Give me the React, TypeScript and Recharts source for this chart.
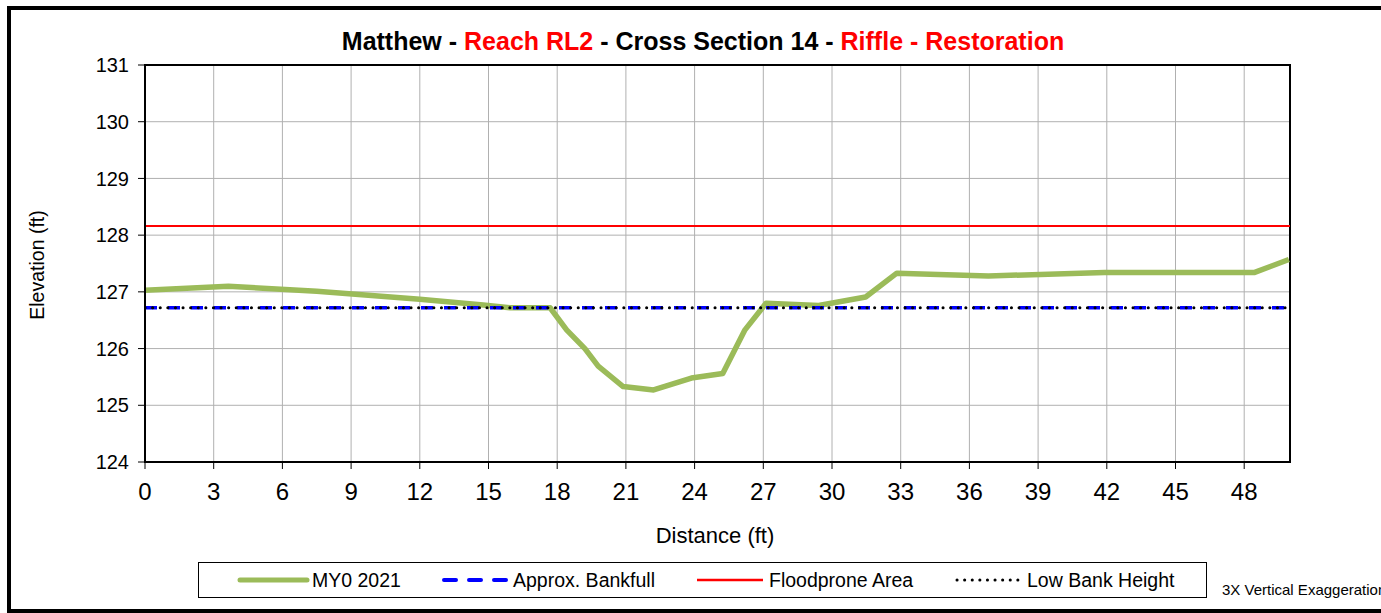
import React from 'react';
import { LineChart, Line, XAxis, YAxis, CartesianGrid, ReferenceArea } from 'recharts';

const distance = [0, 3.64, 7.5, 12.0, 14.77, 15.94, 17.69, 18.41, 19.21, 19.79, 20.88, 22.21, 23.86, 25.23, 26.2, 27.12, 29.42, 31.47, 32.83, 36.83, 41.9, 48.43, 49.95];
const elevation = [127.03, 127.1, 127.01, 126.87, 126.77, 126.72, 126.72, 126.33, 126.0, 125.69, 125.33, 125.27, 125.48, 125.56, 126.33, 126.8, 126.76, 126.91, 127.33, 127.28, 127.34, 127.34, 127.57];
const lineExtent = [0, 50];
const bankfullElevation = 126.72;
const floodproneElevation = 128.16;
const lowBankElevation = 126.72;
const xTicks = [0, 3, 6, 9, 12, 15, 18, 21, 24, 27, 30, 33, 36, 39, 42, 45, 48];
const yTicks = [124, 125, 126, 127, 128, 129, 130, 131];

const surveyData = distance.map((d, i) => ({ x: d, y: elevation[i] }));
const bankfullData = lineExtent.map((d) => ({ x: d, y: bankfullElevation }));
const floodproneData = lineExtent.map((d) => ({ x: d, y: floodproneElevation }));
const lowBankData = lineExtent.map((d) => ({ x: d, y: lowBankElevation }));

const FONT = "'Liberation Sans', Arial, sans-serif";

export default function App() {
  return (
    <div style={{ position: 'fixed', left: 0, top: 0, width: 1381, height: 613, background: '#fff', fontFamily: FONT, overflow: 'hidden' }}>
      <div style={{ position: 'absolute', left: 7, top: 6, width: 1380, height: 607, boxSizing: 'border-box', border: '4px solid #000', borderRight: 'none' }} />
      <div style={{ position: 'absolute', left: 0, top: 27, width: 1406, textAlign: 'center', fontSize: 25, fontWeight: 'bold', whiteSpace: 'nowrap', lineHeight: '28px' }}>
        <span style={{ color: '#000' }}>Matthew - </span>
        <span style={{ color: '#ff0000' }}>Reach RL2</span>
        <span style={{ color: '#000' }}> - Cross Section 14 - </span>
        <span style={{ color: '#ff0000' }}>Riffle - Restoration</span>
      </div>
      <div style={{ position: 'absolute', left: 37, top: 265, width: 0, height: 0 }}>
        <div style={{ position: 'absolute', left: -100, top: -12, width: 200, textAlign: 'center', fontSize: 19.5, lineHeight: '24px', transform: 'rotate(-90deg)', whiteSpace: 'nowrap' }}>Elevation (ft)</div>
      </div>
      <div style={{ position: 'absolute', left: 615, top: 523, width: 200, textAlign: 'center', fontSize: 22, lineHeight: '26px', whiteSpace: 'nowrap' }}>Distance (ft)</div>

      <div style={{ position: 'absolute', left: 0, top: 0 }}>
        <LineChart width={1381} height={613} margin={{ top: 65, right: 91, bottom: 111, left: 85 }} style={{ fontFamily: FONT }}>
          <CartesianGrid stroke="#b0b0b0" strokeWidth={1} horizontalValues={yTicks} verticalValues={xTicks} />
          <XAxis
            type="number"
            dataKey="x"
            domain={[0, 50]}
            ticks={xTicks}
            allowDataOverflow
            height={40}
            tickSize={7}
            tickMargin={14}
            tick={{ fontSize: 24, fill: '#000' }}
            axisLine={{ stroke: '#000', strokeWidth: 2 }}
            tickLine={{ stroke: '#000', strokeWidth: 1 }}
          />
          <YAxis
            type="number"
            dataKey="y"
            domain={[124, 131]}
            ticks={yTicks}
            allowDataOverflow
            width={60}
            tickSize={7}
            tickMargin={9}
            tick={{ fontSize: 20, fill: '#000' }}
            axisLine={{ stroke: '#000', strokeWidth: 2 }}
            tickLine={{ stroke: '#000', strokeWidth: 1 }}
          />
          <ReferenceArea x1={0} x2={50} y1={124} y2={131} fill="none" stroke="#000" strokeWidth={2} ifOverflow="visible" />
          <Line data={surveyData} dataKey="y" name="MY0 2021" stroke="#9bbb59" strokeWidth={5.5} dot={false} isAnimationActive={false} strokeLinejoin="round" />
          <Line data={bankfullData} dataKey="y" name="Approx. Bankfull" stroke="#0000ff" strokeWidth={3.5} strokeDasharray="12 11" dot={false} isAnimationActive={false} />
          <Line data={floodproneData} dataKey="y" name="Floodprone Area" stroke="#ff0000" strokeWidth={2} dot={false} isAnimationActive={false} />
          <Line data={lowBankData} dataKey="y" name="Low Bank Height" stroke="#000" strokeWidth={3} strokeDasharray="0.1 7.5" strokeLinecap="round" dot={false} isAnimationActive={false} />
        </LineChart>
      </div>

      <div style={{ position: 'absolute', left: 198, top: 562, width: 1009, height: 36, boxSizing: 'border-box', border: '1px solid #000', background: '#fff' }}>
        <svg width={1009} height={36} style={{ position: 'absolute', left: -1, top: -1 }}>
          <line x1={42} y1={18} x2={109} y2={18} stroke="#9bbb59" strokeWidth={5} strokeLinecap="round" />
          <line x1={246} y1={18} x2={309} y2={18} stroke="#0000ff" strokeWidth={4} strokeDasharray="12 13" strokeLinecap="round" />
          <line x1={499} y1={18} x2={565} y2={18} stroke="#ff0000" strokeWidth={2.5} />
          <line x1={759} y1={18} x2={820} y2={18} stroke="#000" strokeWidth={3} strokeDasharray="0.1 7.5" strokeLinecap="round" />
        </svg>
        <div style={{ position: 'absolute', left: 113, top: 5, fontSize: 19.5, lineHeight: '24px', whiteSpace: 'nowrap' }}>MY0 2021</div>
        <div style={{ position: 'absolute', left: 314, top: 5, fontSize: 19.5, lineHeight: '24px', whiteSpace: 'nowrap' }}>Approx. Bankfull</div>
        <div style={{ position: 'absolute', left: 570, top: 5, fontSize: 19.5, lineHeight: '24px', whiteSpace: 'nowrap' }}>Floodprone Area</div>
        <div style={{ position: 'absolute', left: 828, top: 5, fontSize: 19.5, lineHeight: '24px', whiteSpace: 'nowrap' }}>Low Bank Height</div>
      </div>
      <div style={{ position: 'absolute', left: 1222, top: 581, fontSize: 15, lineHeight: '18px', whiteSpace: 'nowrap' }}>3X Vertical Exaggeration</div>
    </div>
  );
}
